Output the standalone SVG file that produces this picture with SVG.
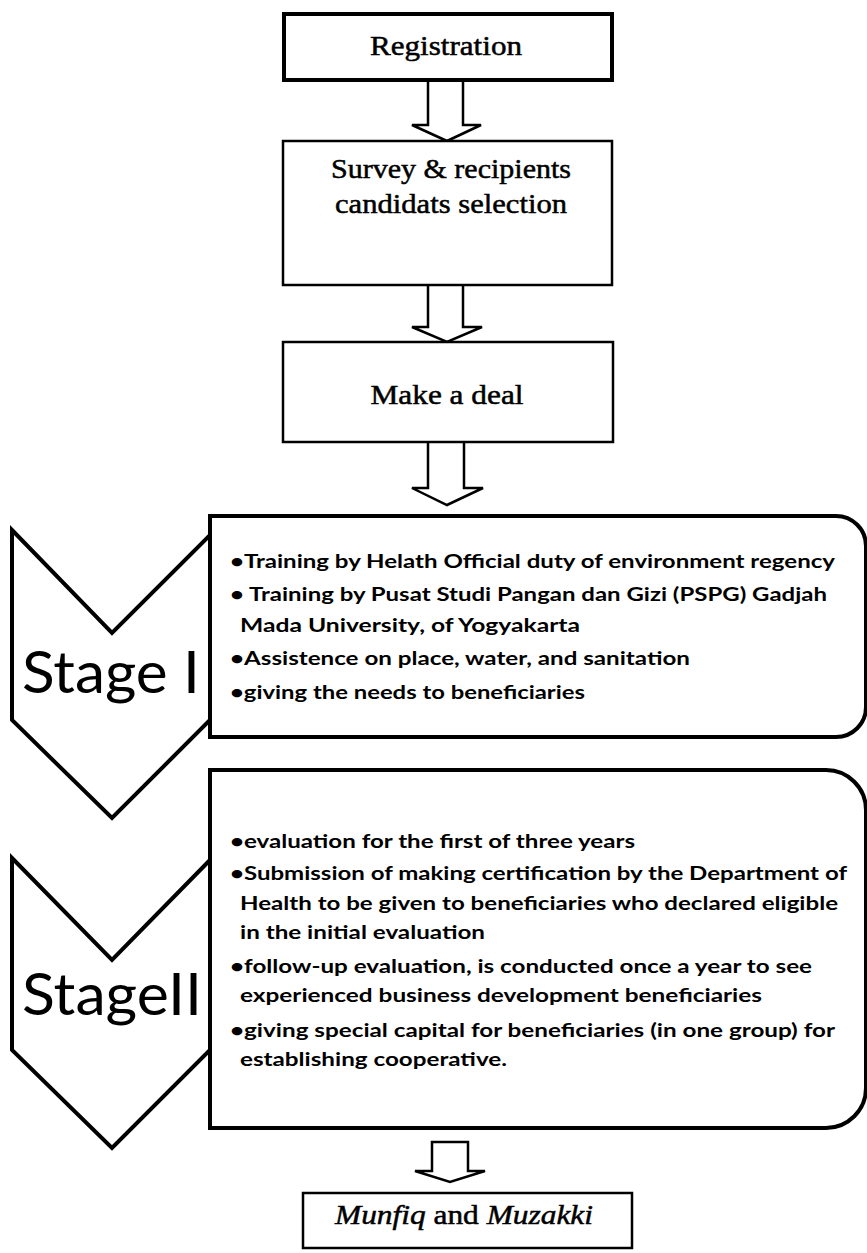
<svg xmlns="http://www.w3.org/2000/svg" width="867" height="1253" viewBox="0 0 867 1253">
<style>
.bx{fill:#fff;stroke:#000;stroke-width:2.5}
.thick{stroke-width:4}
.arr{fill:#fff;stroke:#000;stroke-width:2.5;stroke-linejoin:miter}
.chev{fill:#fff;stroke:#000;stroke-width:4;stroke-linejoin:miter}
.tnr{font-family:"Liberation Serif","Times New Roman",serif;font-size:28px;fill:#000;stroke:#000;stroke-width:0.5}
.stg{font-family:Lato,"Open Sans",sans-serif;font-size:58px;fill:#000}
.li{font-family:Lato,"Open Sans",sans-serif;font-weight:bold;font-size:18px;fill:#000}
</style>
<rect width="867" height="1253" fill="#fff"/>
<g id="connectors">
<path class="arr" d="M428,81 V125 H412 L447,141 L481,125 H463 V81"/>
<path class="arr" d="M428,286 V327 H412 L447,342 L482,327 H463 V286"/>
<path class="arr" d="M428,443 V488 H412 L447,505 L483,488 H464 V443"/>
<path class="arr" d="M432,1142 V1171 H415 L450,1182 L485,1171 H468 V1142 Z"/>
</g>
<g id="registration">
<rect class="bx thick" x="284" y="14" width="328" height="66"/>
<text class="tnr" x="446" y="55" text-anchor="middle" textLength="152" lengthAdjust="spacingAndGlyphs">Registration</text>
</g>
<g id="survey">
<rect class="bx" x="283" y="141" width="329" height="144"/>
<text class="tnr" x="451" y="178" text-anchor="middle" textLength="240" lengthAdjust="spacingAndGlyphs">Survey &amp; recipients</text>
<text class="tnr" x="451" y="213" text-anchor="middle" textLength="232" lengthAdjust="spacingAndGlyphs">candidats selection</text>
</g>
<g id="deal">
<rect class="bx" x="283" y="342" width="330" height="100"/>
<text class="tnr" x="447" y="404" text-anchor="middle" textLength="153" lengthAdjust="spacingAndGlyphs">Make a deal</text>
</g>
<g id="stage1">
<path class="bx thick" d="M210,516 H836 A30,30 0 0 1 866,546 V707 A30,30 0 0 1 836,737 H210 Z"/>
<path class="chev" d="M12,530 L112,633 L210,535 V720 L112,818 L12,720 Z"/>
<text class="stg" x="22" y="693" textLength="178" lengthAdjust="spacingAndGlyphs">Stage I</text>
<text class="li" x="230" y="568" textLength="605" lengthAdjust="spacingAndGlyphs">•Training by Helath Official duty of environment regency</text>
<text class="li" x="230" y="601" textLength="597" lengthAdjust="spacingAndGlyphs">• Training by Pusat Studi Pangan dan Gizi (PSPG) Gadjah</text>
<text class="li" x="240" y="632" textLength="340" lengthAdjust="spacingAndGlyphs">Mada  University, of Yogyakarta</text>
<text class="li" x="230" y="665" textLength="460" lengthAdjust="spacingAndGlyphs">•Assistence on place, water, and sanitation</text>
<text class="li" x="230" y="699" textLength="355" lengthAdjust="spacingAndGlyphs">•giving the needs to beneficiaries</text>
</g>
<g id="stage2">
<path class="bx thick" d="M210,770 H826 A40,40 0 0 1 866,810 V1088 A40,40 0 0 1 826,1128 H210 Z"/>
<path class="chev" d="M12,858 L112,960 L210,860 V1050 L112,1148 L12,1050 Z"/>
<text class="stg" x="22" y="1015" textLength="180" lengthAdjust="spacingAndGlyphs">StageII</text>
<text class="li" x="230" y="848" textLength="405" lengthAdjust="spacingAndGlyphs">•evaluation for the first of three years</text>
<text class="li" x="230" y="880" textLength="617" lengthAdjust="spacingAndGlyphs">•Submission of making certification by the Department of</text>
<text class="li" x="240" y="910" textLength="598" lengthAdjust="spacingAndGlyphs">Health to be given to beneficiaries who declared eligible</text>
<text class="li" x="240" y="939" textLength="245" lengthAdjust="spacingAndGlyphs">in the initial evaluation</text>
<text class="li" x="230" y="973" textLength="582" lengthAdjust="spacingAndGlyphs">•follow-up evaluation, is conducted once a year to see</text>
<text class="li" x="240" y="1002" textLength="522" lengthAdjust="spacingAndGlyphs">experienced business development beneficiaries</text>
<text class="li" x="230" y="1037" textLength="605" lengthAdjust="spacingAndGlyphs">•giving special capital for beneficiaries (in one group) for</text>
<text class="li" x="240" y="1066" textLength="267" lengthAdjust="spacingAndGlyphs">establishing cooperative.</text>
</g>
<g id="result">
<rect class="bx" x="303" y="1193" width="329" height="55"/>
<text class="tnr" x="335" y="1224" textLength="258" lengthAdjust="spacingAndGlyphs"><tspan font-style="italic">Munfiq</tspan> and <tspan font-style="italic">Muzakki</tspan></text>
</g>
</svg>
